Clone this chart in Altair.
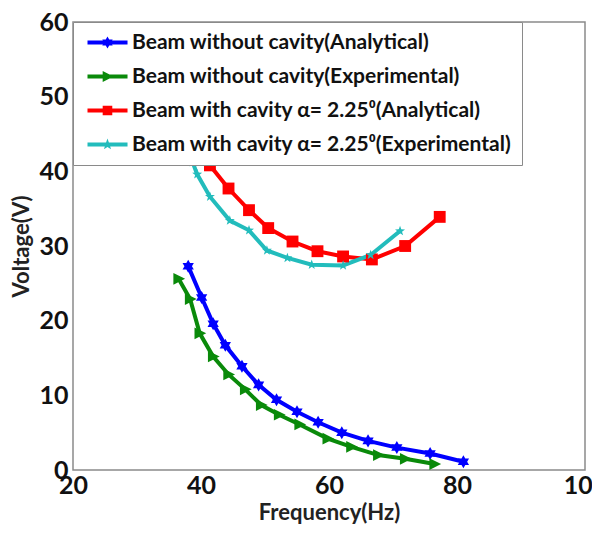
import altair as alt
import pandas as pd

series_names = [
    "Beam without cavity(Analytical)",
    "Beam without cavity(Experimental)",
    "Beam with cavity \u03b1= 2.25\u2070(Analytical)",
    "Beam with cavity \u03b1= 2.25\u2070(Experimental)",
]
colors = ["#0000ff", "#0a8a0a", "#ff0000", "#22bcbc"]

blue_x = [38.0, 40.1, 41.9, 43.8, 46.4, 49.0, 51.8, 55.0, 58.3, 62.0, 66.1, 70.6, 75.8, 81.0]
blue_y = [27.3, 23.1, 19.6, 16.7, 13.9, 11.4, 9.4, 7.8, 6.4, 5.0, 3.9, 3.0, 2.2, 1.1]

green_x = [36.5, 38.3, 39.8, 41.9, 44.3, 46.9, 49.4, 52.2, 55.4, 59.8, 63.5, 67.7, 71.9, 76.5]
green_y = [25.6, 22.9, 18.3, 15.2, 12.8, 10.8, 8.7, 7.4, 6.1, 4.2, 3.1, 2.0, 1.5, 0.8]

red_x = [39.8, 41.4, 44.3, 47.5, 50.5, 54.3, 58.2, 62.2, 66.7, 71.9, 77.3]
red_y = [43.5, 40.8, 37.7, 34.8, 32.4, 30.6, 29.3, 28.6, 28.2, 30.0, 33.9]

cyan_x = [37.6, 38.7, 39.4, 41.4, 44.5, 47.5, 50.3, 53.5, 57.3, 62.2, 66.5, 71.1]
cyan_y = [43.5, 41.2, 39.6, 36.6, 33.4, 32.1, 29.4, 28.4, 27.5, 27.4, 28.8, 32.0]

x_ticks = [20, 40, 60, 80, 100]
y_ticks = [0, 10, 20, 30, 40, 50, 60]

rows = []
for name, xs, ys in zip(series_names, [blue_x, green_x, red_x, cyan_x], [blue_y, green_y, red_y, cyan_y]):
    for i, (a, b) in enumerate(zip(xs, ys)):
        rows.append({"series": name, "freq": a, "volt": b, "idx": i})
df = pd.DataFrame(rows)

# marker outlines (unit box)
hexagram = [(0, -1), (0.289, -0.5), (0.866, -0.5), (0.577, 0), (0.866, 0.5), (0.289, 0.5),
            (0, 1), (-0.289, 0.5), (-0.866, 0.5), (-0.577, 0), (-0.866, -0.5), (-0.289, -0.5)]
tri_right = [(-0.8, -0.9), (1.0, 0.0), (-0.8, 0.9)]
square = [(-0.8, -0.8), (0.8, -0.8), (0.8, 0.8), (-0.8, 0.8)]
pentagram = [(0, -1), (0.235, -0.324), (0.951, -0.309), (0.380, 0.124), (0.588, 0.809), (0, 0.4),
             (-0.588, 0.809), (-0.380, 0.124), (-0.951, -0.309), (-0.235, -0.324)]
markers = [hexagram, tri_right, square, pentagram]
marker_sizes = [170, 170, 220, 110]


def path(pts, s=1.0, dx=0.0):
    return "M" + "L".join(f"{x * s + dx:.3f},{y * s:.3f}" for x, y in pts) + "Z"


legend_paths = ["M-1,-0.33H5.67V0.33H-1Z" + path(m, 1.0, 2.33) for m in markers]

xs = alt.Scale(domain=[20, 100], nice=False, zero=False)
ys = alt.Scale(domain=[0, 60], nice=False)
cscale = alt.Scale(domain=series_names, range=colors)

X = alt.X("freq:Q", scale=xs, title="Frequency(Hz)",
          axis=alt.Axis(values=x_ticks, grid=False, ticks=False, domain=False, labelFlush=False,
                        labelPadding=3, titlePadding=4))
Y = alt.Y("volt:Q", scale=ys, title="Voltage(V)",
          axis=alt.Axis(values=y_ticks, grid=False, ticks=False, domain=False, labelFlush=False,
                        labelPadding=5, titlePadding=5))

lines = alt.Chart(df).mark_line(strokeWidth=4).encode(
    x=X, y=Y, color=alt.Color("series:N", scale=cscale, legend=None), order="idx:Q"
)

point_layers = []
for name, m, sz in zip(series_names, markers, marker_sizes):
    point_layers.append(
        alt.Chart(df).transform_filter(alt.datum.series == name)
        .mark_point(shape=path(m), filled=True, size=sz, opacity=1)
        .encode(x=X, y=Y, color=alt.Color("series:N", scale=cscale, legend=None))
    )

leg = alt.Legend(
    title=None, orient="none", legendX=0, legendY=0,
    fillColor="white", strokeColor="#8a8a8a", padding=10, rowPadding=12,
    labelFont="Lato", labelFontSize=21, labelFontWeight="bold", labelColor="#111111",
    symbolSize=144, labelOffset=28, symbolOpacity=1, labelLimit=0, symbolStrokeWidth=0)

legend_layer = alt.Chart(df).mark_point(filled=True, opacity=0).encode(
    x=X, y=Y,
    color=alt.Color("series:N", scale=cscale, legend=leg),
    shape=alt.Shape("series:N", scale=alt.Scale(domain=series_names, range=legend_paths), legend=leg),
)

chart = alt.layer(lines, *point_layers, legend_layer).resolve_legend(
    color="independent", shape="independent"
).properties(
    width=512, height=448,
    autosize=alt.AutoSizeParams(type="none"),
    padding={"left": 65, "top": 14, "right": 7, "bottom": 58},
).configure_view(
    stroke="#8a8a8a", strokeWidth=1.5
).configure_axis(
    labelFont="Lato", labelFontSize=25, labelFontWeight="bold", labelColor="#111111",
    titleFont="Lato", titleFontSize=22, titleFontWeight="bold", titleColor="#222222",
)

chart.save("out.html", embed_options={"renderer": "svg", "actions": False})
